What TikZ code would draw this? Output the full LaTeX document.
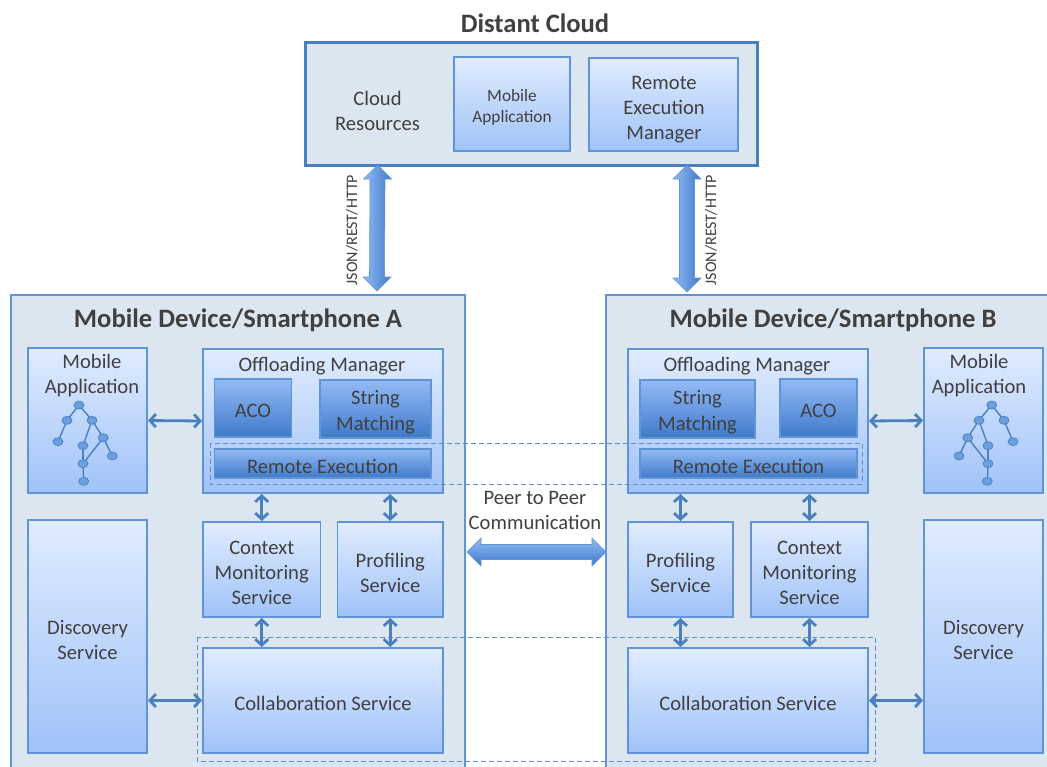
\documentclass[tikz,border=0pt]{standalone}
\usepackage{fontspec}
\setmainfont{Carlito}
\usetikzlibrary{arrows.meta,calc,shapes.geometric}
\definecolor{edgeblue}{HTML}{6094D4}
\definecolor{arrowblue}{HTML}{4A80C0}
\definecolor{panelfill}{HTML}{DCE6F1}
\definecolor{txt}{HTML}{404040}
\definecolor{lighttop}{HTML}{E0ECFF}
\definecolor{lightbot}{HTML}{A0C2F8}
\definecolor{darktop}{HTML}{94BAF6}
\definecolor{darkbot}{HTML}{3D7AC9}
\definecolor{treefill}{HTML}{6A9FE2}
\definecolor{dashblue}{HTML}{5A8ED0}
\tikzset{
  base/.style={inner sep=0pt,outer sep=0pt,align=center,text=txt},
  panel/.style={base,draw=edgeblue,line width=1.1pt,fill=panelfill},
  cloudpanel/.style={base,draw=arrowblue,line width=3pt,fill=panelfill},
  lbox/.style={base,draw=edgeblue,line width=1.1pt,top color=lighttop,bottom color=lightbot},
  dbox/.style={base,draw=edgeblue,line width=1.1pt,top color=darktop,bottom color=darkbot},
  titletext/.style={base,font=\fontsize{26.6}{30}\selectfont\bfseries},
  label/.style={base,font=\fontsize{20.6}{25}\selectfont},
  dlabel/.style={base,font=\fontsize{20.6}{26}\selectfont},
  smalllabel/.style={base,font=\fontsize{17.3}{21}\selectfont},
  vlabel/.style={base,rotate=90,font=\fontsize{16}{18}\selectfont},
  link/.style={arrowblue,line width=2.8pt,{Straight Barb[length=6pt,width=13pt,line width=2.8pt]}-{Straight Barb[length=6pt,width=13pt,line width=2.8pt]},shorten >=1pt,shorten <=1pt},
  dashbox/.style={draw=dashblue,line width=.85pt,dash pattern=on 5pt off 3pt},
  treeedge/.style={draw=arrowblue,line width=1.4pt},
  treenode/.style={ellipse,draw=arrowblue,line width=.7pt,fill=treefill,inner sep=0pt,minimum width=10pt,minimum height=8pt},
  blockv/.style={left color=darktop,right color=darkbot,draw=edgeblue,line width=.6pt},
  blockh/.style={top color=darktop,bottom color=darkbot,draw=edgeblue,line width=.6pt},
}
% box node, then its text node, slightly lowered as in the reference
\newcommand{\pbox}[8][label]{%
  \pgfmathsetmacro\cxx{(#4+#6)/2}\pgfmathsetmacro\cyy{(#5+#7)/2}%
  \pgfmathsetmacro\www{#6-#4}\pgfmathsetmacro\hhh{#7-#5}%
  \node[#2,minimum width=\www pt,minimum height=\hhh pt] (#3) at (\cxx,\cyy) {};
  \if\relax\detokenize{#8}\relax\else\node[#1] (#3text) at ($(#3.center)+(0,3)$) {#8};\fi}
\newcommand{\vblock}[2]{%
  \shade[blockv] let \p1=(#1),\p2=(#2) in
   (\x1,\y1) -- (\x1+14pt,\y1-14pt) -- (\x1+7.5pt,\y1-14pt) -- (\x2+7.5pt,\y2+14pt) -- (\x2+14pt,\y2+14pt)
   -- (\x2,\y2) -- (\x2-14pt,\y2+14pt) -- (\x2-7.5pt,\y2+14pt) -- (\x1-7.5pt,\y1-14pt) -- (\x1-14pt,\y1-14pt) -- cycle;}
\newcommand{\hblock}[2]{%
  \shade[blockh] let \p1=(#1),\p2=(#2) in
   (\x1,\y1) -- (\x1+14pt,\y1+14pt) -- (\x1+14pt,\y1+7.5pt) -- (\x2-14pt,\y2+7.5pt) -- (\x2-14pt,\y2+14pt)
   -- (\x2,\y2) -- (\x2-14pt,\y2-14pt) -- (\x2-14pt,\y2-7.5pt) -- (\x1+14pt,\y1-7.5pt) -- (\x1+14pt,\y1-14pt) -- cycle;}
\begin{document}
\begin{tikzpicture}[x=1pt,y=-1pt]
\useasboundingbox (0,0) rectangle (1047,766);
\clip (0,0) rectangle (1047,766);
\fill[white] (0,0) rectangle (1047,766);

% Cloud
\node[titletext] (cloudtitle) at (535,23) {Distant Cloud};
\pbox{cloudpanel}{cloud}{305}{42}{757}{165}{}
\node[label] (cloudres) at (377.5,111) {Cloud\\Resources};
\pbox[smalllabel]{lbox}{cloudapp}{454}{57}{570}{151}{Mobile\\Application}
\pbox{lbox}{rem}{589}{58}{738}{151}{}
\node[label] (remtext) at (664,110) {Remote\\Execution\\Manager};

% Panels
\pbox{panel}{devA}{11}{295}{465}{800}{}
\pbox{panel}{devB}{606}{295}{1090}{800}{}
\node[titletext] (titleA) at (238,320) {Mobile Device/Smartphone A};
\node[titletext] (titleB) at (833,320) {Mobile Device/Smartphone B};

% Device A boxes
\pbox{lbox}{appA}{28}{348}{147}{493}{}
\node[label] (appAtext) at (92,375.5) {Mobile\\Application};
\pbox{lbox}{offA}{203}{349}{443}{493}{}
\node[label] (offAtext) at (322,366) {Offloading Manager};
\pbox{dbox}{acoA}{214.5}{379}{291.5}{437}{ACO}
\pbox[dlabel]{dbox}{strA}{320}{380}{431}{438}{String\\Matching}
\pbox{dbox}{remA}{214.5}{449}{431}{478}{Remote Execution}
\pbox{lbox}{ctxA}{203}{522}{320.5}{617}{Context\\Monitoring\\Service}
\pbox{lbox}{profA}{337.5}{522}{443}{617}{Profiling\\Service}
\pbox{lbox}{discA}{28}{520}{147}{753}{Discovery\\Service}
\pbox{lbox}{collA}{203}{648}{443}{753}{Collaboration Service}

% Device B boxes
\pbox{lbox}{offB}{628}{349}{868}{493}{}
\node[label] (offBtext) at (747,366) {Offloading Manager};
\pbox[dlabel]{dbox}{strB}{640}{380}{755}{438}{String\\Matching}
\pbox{dbox}{acoB}{780}{379}{857}{437}{ACO}
\pbox{dbox}{remB}{640}{449}{857}{478}{Remote Execution}
\pbox{lbox}{appB}{924}{348}{1043}{493}{}
\node[label] (appBtext) at (979,375.5) {Mobile\\Application};
\pbox{lbox}{profB}{628}{522}{733}{617}{Profiling\\Service}
\pbox{lbox}{ctxB}{751}{522}{868}{617}{Context\\Monitoring\\Service}
\pbox{lbox}{discB}{924}{520}{1043}{753}{Discovery\\Service}
\pbox{lbox}{collB}{628}{648}{868}{753}{Collaboration Service}

% Dashed groups
\draw[dashbox] (210,443) rectangle (862,484);
\draw[dashbox] (197,637) rectangle (875,761);

% Tree A
\foreach \n/\x/\y in {a/79/405,b/67/420.3,c/92/420.3,d/58/441.7,e/83/445.7,f/103.3/437.7,g/112.3/456,h/83/463.7,i/83.7/481.3}
  \coordinate (ta\n) at (\x,\y);
\foreach \p/\q in {a/b,a/c,b/d,c/e,c/f,e/h,f/h,f/g,h/i}
  \draw[treeedge] (ta\p) -- (ta\q);
\foreach \n in {a,b,c,d,e,f,g,h,i}
  \node[treenode] (tan\n) at (ta\n) {};

% Tree B
\foreach \n/\x/\y in {a/991.7/405,b/979/420.3,c/1004/420.3,d/1013/441.7,e/988/445.7,f/967.7/437.7,g/959/456,h/988/463.7,i/987.3/481.3}
  \coordinate (tb\n) at (\x,\y);
\foreach \p/\q in {a/b,a/c,c/d,b/f,b/e,e/h,f/h,f/g,h/i}
  \draw[treeedge] (tb\p) -- (tb\q);
\foreach \n in {a,b,c,d,e,f,g,h,i}
  \node[treenode] (tbn\n) at (tb\n) {};

% Links A
\draw[link] (appA.east) -- (offA.west);
\draw[link] (offA.south -| ctxA) -- (ctxA.north);
\draw[link] (offA.south -| profA) -- (profA.north);
\draw[link] (ctxA.south) -- (ctxA.south |- collA.north);
\draw[link] (profA.south) -- (profA.south |- collA.north);
\draw[link] (discA.east |- collA.west) -- (collA.west);

% Links B
\draw[link] (offB.east) -- (appB.west);
\draw[link] (offB.south -| profB) -- (profB.north);
\draw[link] (offB.south -| ctxB) -- (ctxB.north);
\draw[link] (profB.south) -- (profB.south |- collB.north);
\draw[link] (ctxB.south) -- (ctxB.south |- collB.north);
\draw[link] (collB.east) -- (discB.west |- collB.east);

% Block arrows
\coordinate (upA) at (cloud.south -| cloudres);
\coordinate (downA) at (377,291);
\coordinate (upB) at (687,165);
\coordinate (downB) at (687,292);
\vblock{upA}{downA}
\vblock{upB}{downB}
\node[vlabel] (jsonA) at (352,230) {JSON/REST/HTTP};
\node[vlabel] (jsonB) at (711,230) {JSON/REST/HTTP};
\coordinate (peerL) at (467,552);
\coordinate (peerR) at (606,552);
\hblock{peerL}{peerR}
\node[label] (peer) at (535,510.5) {Peer to Peer\\Communication};
\end{tikzpicture}
\end{document}
